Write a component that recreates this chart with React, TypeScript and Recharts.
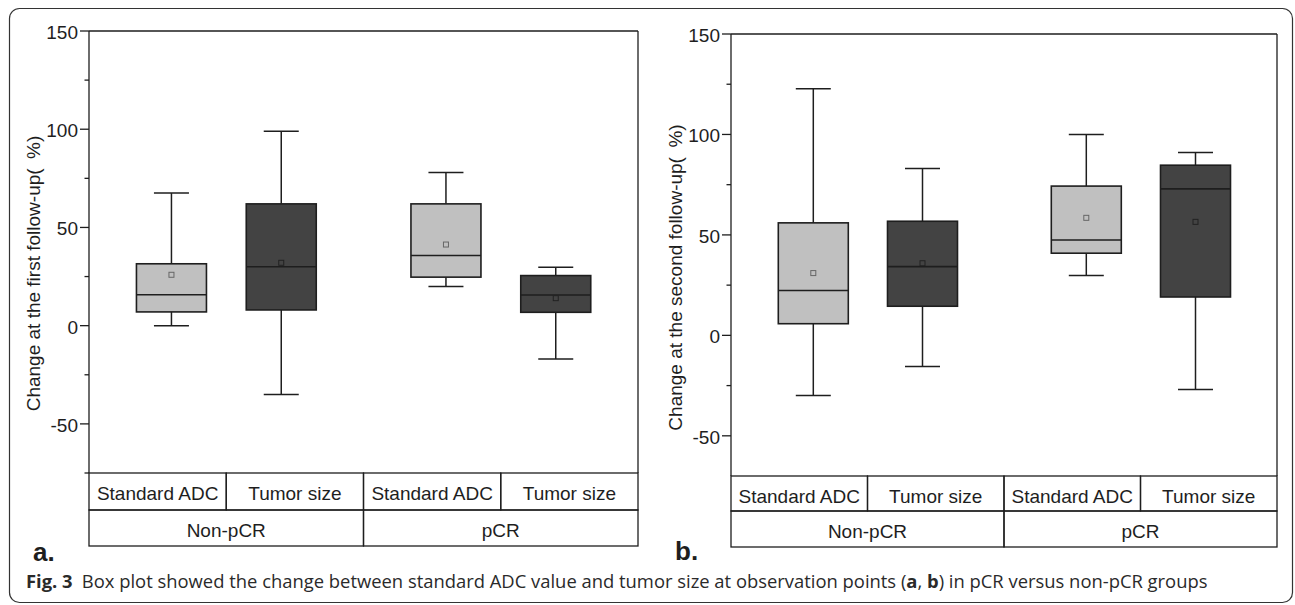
import React from "react";
import { ComposedChart, Bar, XAxis, YAxis, ReferenceLine, Label } from "recharts";

const groups = ["Non-pCR", "pCR"];
const measures = ["Standard ADC", "Tumor size"];

// order: Non-pCR ADC, Non-pCR tumor, pCR ADC, pCR tumor
const firstMin = [0, -35, 20, -17];
const firstQ1 = [7, 8, 24.7, 6.8];
const firstMedian = [15.7, 30, 35.7, 15.6];
const firstQ3 = [31.5, 62, 62, 25.5];
const firstMax = [67.5, 99, 78, 29.8];
const firstMean = [25.9, 32, 41.3, 14];

const secondMin = [-29.9, -15.5, 29.8, -27];
const secondQ1 = [5.8, 14.5, 40.9, 19.1];
const secondMedian = [22.3, 34.2, 47.5, 72.9];
const secondQ3 = [56, 56.8, 74.3, 84.7];
const secondMax = [122.8, 83, 100, 91];
const secondMean = [31, 35.9, 58.5, 56.5];

const ticksFirst = [-75, -50, -25, 0, 25, 50, 75, 100, 125, 150];
const ticksSecond = [-50, -25, 0, 25, 50, 75, 100, 125, 150];

const FONT = '"Liberation Sans", Arial, sans-serif';
const INK = "#1e1e1e";
const fills = ["#c0c0c0", "#434343"];

function buildRows(min: number[], q1: number[], med: number[], q3: number[], max: number[], mean: number[]) {
  return min.map((_, i) => {
    const g = Math.floor(i / 2);
    const m = i % 2;
    return {
      pos: g * 2 + 1 + (m === 0 ? -0.4 : 0.4),
      measure: m,
      range: [min[i], max[i]],
      min: min[i],
      q1: q1[i],
      median: med[i],
      q3: q3[i],
      max: max[i],
      mean: mean[i],
    };
  });
}

const rowsFirst = buildRows(firstMin, firstQ1, firstMedian, firstQ3, firstMax, firstMean);
const rowsSecond = buildRows(secondMin, secondQ1, secondMedian, secondQ3, secondMax, secondMean);

function BoxShape(props: any) {
  const { x, y, width, height, payload } = props;
  const top = Math.min(y, y + height);
  const bottom = Math.max(y, y + height);
  const { min, max } = payload;
  const px = (v: number) => top + ((max - v) / (max - min)) * (bottom - top);
  const cx = x + width / 2;
  const cap = width / 4;
  const fill = fills[payload.measure];
  return (
    <g>
      <line x1={cx} x2={cx} y1={px(max)} y2={px(payload.q3)} stroke={INK} strokeWidth={1.5} />
      <line x1={cx} x2={cx} y1={px(payload.q1)} y2={px(min)} stroke={INK} strokeWidth={1.5} />
      <line x1={cx - cap} x2={cx + cap} y1={px(max)} y2={px(max)} stroke={INK} strokeWidth={1.5} />
      <line x1={cx - cap} x2={cx + cap} y1={px(min)} y2={px(min)} stroke={INK} strokeWidth={1.5} />
      <rect
        x={x}
        y={px(payload.q3)}
        width={width}
        height={px(payload.q1) - px(payload.q3)}
        fill={fill}
        stroke={INK}
        strokeWidth={1.6}
      />
      <line x1={x} x2={x + width} y1={px(payload.median)} y2={px(payload.median)} stroke={INK} strokeWidth={1.6} />
      <rect
        x={cx - 2.5}
        y={px(payload.mean) - 2.5}
        width={5}
        height={5}
        fill={fill}
        stroke={payload.measure === 0 ? "#666" : "#222"}
        strokeWidth={1}
      />
    </g>
  );
}

function YTick(props: any) {
  const { x, y, payload } = props;
  const v = payload.value;
  const major = v % 50 === 0;
  return (
    <g>
      <line x1={x - (major ? 9 : 4.5)} x2={x} y1={y} y2={y} stroke={INK} strokeWidth={1.3} />
      {major && (
        <text x={x - 11} y={y} dy={8} textAnchor="end" fontSize={19} fontFamily={FONT} fill={INK}>
          {v}
        </text>
      )}
    </g>
  );
}

function makeCellTick(cellWidth: number, rowHeight: number, labels: string[], toIndex: (v: number) => number) {
  return (props: any) => {
    const { x, y, payload } = props;
    const label = labels[toIndex(payload.value)];
    return (
      <g>
        <rect x={x - cellWidth / 2} y={y} width={cellWidth} height={rowHeight} fill="none" stroke={INK} strokeWidth={1.3} />
        <text x={x} y={y + 26.7} textAnchor="middle" fontSize={19} fontFamily={FONT} fill={INK}>
          {label}
        </text>
      </g>
    );
  };
}

type PanelProps = {
  rows: any[];
  ticks: number[];
  domain: [number, number];
  width: number;
  height: number;
  margin: { top: number; right: number; left: number; bottom: number };
  row1: number;
  row2: number;
  axisLabel: string;
  labelX: number;
  labelY: number;
};

function Panel({ rows, ticks, domain, width, height, margin, row1, row2, axisLabel, labelX, labelY }: PanelProps) {
  const plotW = width - margin.left - margin.right - 80;
  const unit = plotW / 4;
  const measureTick = makeCellTick(unit, row1, measures, (v) => Math.round(v - 0.5) % 2);
  const groupTick = makeCellTick(unit * 2, row2, groups, (v) => (v - 1) / 2);
  return (
    <ComposedChart width={width} height={height} data={rows} margin={margin}>
      <XAxis
        dataKey="pos"
        type="number"
        domain={[0, 4]}
        ticks={[0.5, 1.5, 2.5, 3.5]}
        interval={0}
        height={row1}
        axisLine={false}
        tickLine={false}
        tickSize={0}
        tickMargin={0}
        tick={measureTick}
        allowDataOverflow
      />
      <XAxis
        xAxisId="group"
        dataKey="pos"
        type="number"
        domain={[0, 4]}
        ticks={[1, 3]}
        interval={0}
        height={row2}
        axisLine={false}
        tickLine={false}
        tickSize={0}
        tickMargin={0}
        tick={groupTick}
        allowDataOverflow
      />
      <YAxis
        type="number"
        domain={domain}
        ticks={ticks}
        interval={0}
        width={80}
        axisLine={{ stroke: INK, strokeWidth: 1.3 }}
        tickLine={false}
        tickSize={0}
        tickMargin={0}
        tick={<YTick />}
        allowDataOverflow
      >
        <Label
          content={() => (
            <text
              x={labelX}
              y={labelY}
              transform={`rotate(-90 ${labelX} ${labelY})`}
              textAnchor="middle"
              fontSize={19}
              fontFamily={FONT}
              fill={INK}
            >
              {axisLabel}
            </text>
          )}
        />
      </YAxis>
      <ReferenceLine y={domain[1]} stroke={INK} strokeWidth={1.3} ifOverflow="visible" />
      <ReferenceLine x={4} stroke={INK} strokeWidth={1.3} ifOverflow="visible" />
      <Bar dataKey="range" barSize={70} shape={<BoxShape />} isAnimationActive={false} />
    </ComposedChart>
  );
}

export default function App() {
  return (
    <div
      style={{
        position: "absolute",
        left: 0,
        top: 0,
        width: 1295,
        height: 605,
        background: "#fff",
        overflow: "hidden",
      }}
    >
      <svg width={1295} height={605} style={{ position: "absolute", left: 0, top: 0 }}>
        <rect x={9.5} y={8.5} width={1283} height={594} rx={10} fill="none" stroke="#333" strokeWidth={1.2} />
      </svg>
      <div style={{ position: "absolute", left: 0, top: 0 }}>
        <Panel
          rows={rowsFirst}
          ticks={ticksFirst}
          domain={[-75, 150]}
          width={650}
          height={560}
          margin={{ top: 31, right: 12, left: 9, bottom: 14 }}
          row1={37}
          row2={36}
          axisLabel={"Change at the first follow-up(\u2002%)"}
          labelX={40}
          labelY={273.5}
        />
      </div>
      <div style={{ position: "absolute", left: 650, top: 0 }}>
        <Panel
          rows={rowsSecond}
          ticks={ticksSecond}
          domain={[-70, 150]}
          width={645}
          height={560}
          margin={{ top: 34, right: 18, left: 1, bottom: 13 }}
          row1={35}
          row2={36}
          axisLabel={"Change at the second follow-up(\u2002%)"}
          labelX={31.5}
          labelY={277.5}
        />
      </div>
      <div style={{ position: "absolute", left: 33, top: 537, fontFamily: FONT, fontWeight: 700, fontSize: 26, color: INK }}>
        a.
      </div>
      <div style={{ position: "absolute", left: 675, top: 536, fontFamily: FONT, fontWeight: 700, fontSize: 26, color: INK }}>
        b.
      </div>
      <div
        style={{
          position: "absolute",
          left: 26,
          top: 571,
          fontFamily: '"Open Sans", sans-serif',
          fontSize: 18.4,
          lineHeight: "20px",
          color: "#2a2a2a",
          whiteSpace: "nowrap",
        }}
      >
        <b>Fig. 3</b>
        {"\u2002"}Box plot showed the change between standard ADC value and tumor size at observation points (<b>a</b>, <b>b</b>) in pCR versus non-pCR groups
      </div>
    </div>
  );
}
